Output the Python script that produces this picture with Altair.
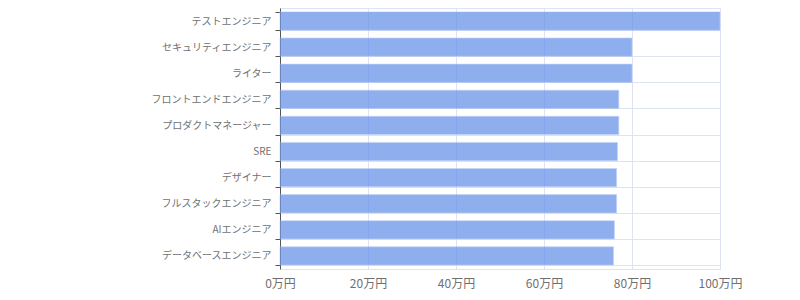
import altair as alt
import pandas as pd

categories = ["テストエンジニア", "セキュリティエンジニア", "ライター", "フロントエンドエンジニア",
              "プロダクトマネージャー", "SRE", "デザイナー", "フルスタックエンジニア",
              "AIエンジニア", "データベースエンジニア"]
values = [100, 80, 80, 77, 77, 76.7, 76.5, 76.5, 76.0, 75.8]
x_ticks = [0, 20, 40, 60, 80, 100]

df = pd.DataFrame({"role": categories, "salary": values})

font = "Noto Sans CJK JP"

chart = alt.Chart(df).mark_bar(
    color="#5f8de7", opacity=0.7, stroke="#a9c0f2", strokeWidth=1, strokeOpacity=0.6
).encode(
    x=alt.X("salary:Q", scale=alt.Scale(domain=[0, 100], nice=False),
            axis=alt.Axis(values=x_ticks, title=None, labelExpr="datum.value + '万円'",
                          ticks=False, domainColor="#dde3f3", gridColor="#dde3f3",
                          labelColor="#707070", labelFontSize=12, labelFont=font,
                          labelFlush=False, labelAlign="center", labelPadding=9)),
    y=alt.Y("role:N", sort=categories, scale=alt.Scale(paddingInner=0.3, paddingOuter=0.15),
            axis=alt.Axis(title=None, tickBand="extent", grid=True, gridColor="#dde3f3",
                          domainColor="#555555", tickColor="#555555", tickSize=5,
                          labelColor="#707070", labelFontSize=10, labelFont=font,
                          labelPadding=4)),
).properties(
    width=440, height=261,
    autosize=alt.AutoSizeParams(type="none"),
    padding={"left": 280, "top": 8, "right": 80, "bottom": 31},
).configure_view(stroke="#dde3f3")

chart.save("out.html", embed_options={"renderer": "svg", "actions": False})
